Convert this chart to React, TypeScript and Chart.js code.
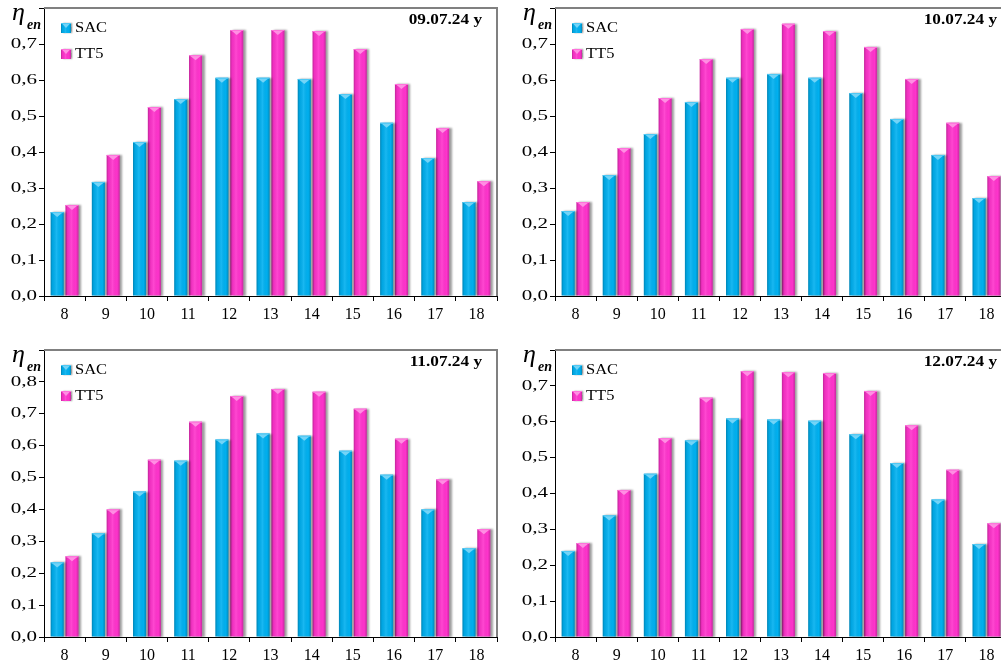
import React, { useEffect, useRef } from 'react';
import { Chart, registerables } from 'chart.js';

Chart.register(...registerables);

// Hours of the day (x categories)
const hours = ['8', '9', '10', '11', '12', '13', '14', '15', '16', '17', '18'];
const seriesNames = ['SAC', 'TT5'];
const seriesColors = ['#00B0F0', '#FF33CC'];

// Energy efficiency η_en per hour, one pair of series per day
const sacJul09 = [0.233, 0.317, 0.428, 0.547, 0.606, 0.606, 0.603, 0.561, 0.481, 0.383, 0.261];
const tt5Jul09 = [0.253, 0.392, 0.525, 0.669, 0.739, 0.739, 0.736, 0.686, 0.589, 0.467, 0.319];
const sacJul10 = [0.236, 0.336, 0.45, 0.539, 0.606, 0.617, 0.606, 0.564, 0.492, 0.392, 0.272];
const tt5Jul10 = [0.261, 0.411, 0.55, 0.658, 0.742, 0.756, 0.736, 0.692, 0.603, 0.481, 0.333];
const sacJul11 = [0.234, 0.325, 0.456, 0.553, 0.619, 0.638, 0.631, 0.584, 0.509, 0.4, 0.278];
const tt5Jul11 = [0.253, 0.4, 0.556, 0.675, 0.756, 0.778, 0.769, 0.716, 0.622, 0.494, 0.338];
const sacJul12 = [0.24, 0.339, 0.455, 0.548, 0.609, 0.606, 0.603, 0.565, 0.485, 0.383, 0.259];
const tt5Jul12 = [0.262, 0.41, 0.554, 0.667, 0.741, 0.738, 0.736, 0.686, 0.59, 0.466, 0.317];

const dateLabels = ['09.07.24 y', '10.07.24 y', '11.07.24 y', '12.07.24 y'];
const yMaxima = [0.8, 0.8, 0.9, 0.8];
const yStep = 0.1;

const panelSeries = [
  [sacJul09, tt5Jul09],
  [sacJul10, tt5Jul10],
  [sacJul11, tt5Jul11],
  [sacJul12, tt5Jul12],
];

// Canvas placement and plot-area box (canvas coordinates) for each panel
const panelLayouts = [
  { left: 0, top: 0, width: 505, height: 333, plotLeft: 44, plotTop: 8, plotRight: 497, plotBottom: 296, titleInset: 15 },
  { left: 505, top: 0, width: 510, height: 333, plotLeft: 50, plotTop: 8, plotRight: 502, plotBottom: 296, titleInset: 10 },
  { left: 0, top: 333, width: 505, height: 333, plotLeft: 44, plotTop: 17, plotRight: 497, plotBottom: 304, titleInset: 15 },
  { left: 505, top: 333, width: 510, height: 333, plotLeft: 50, plotTop: 17, plotRight: 502, plotBottom: 304, titleInset: 10 },
];

const SERIF = '"Liberation Serif", "Times New Roman", serif';

function lighten(hex: string, k: number): string {
  const n = parseInt(hex.slice(1), 16);
  const r = (n >> 16) & 255, g = (n >> 8) & 255, b = n & 255;
  const f = (c: number) => Math.round(c + (255 - c) * k);
  return `rgb(${f(r)},${f(g)},${f(b)})`;
}

// Bevel / cylinder shading laid over a flat bar rectangle
function shadeBar(ctx: CanvasRenderingContext2D, l: number, t: number, w: number, h: number, color: string) {
  const r = l + w;
  const g = ctx.createLinearGradient(l, 0, r, 0);
  g.addColorStop(0, 'rgba(0,0,0,0.25)');
  g.addColorStop(0.15, 'rgba(0,0,0,0.06)');
  g.addColorStop(0.45, 'rgba(255,255,255,0.10)');
  g.addColorStop(0.8, 'rgba(0,0,0,0)');
  g.addColorStop(1, 'rgba(0,0,0,0.22)');
  ctx.fillStyle = g;
  ctx.fillRect(l, t, w, h);
  const cap = Math.min(5, h);
  ctx.beginPath();
  ctx.moveTo(l + 0.5, t);
  ctx.lineTo(r - 0.5, t);
  ctx.lineTo(l + w / 2, t + cap);
  ctx.closePath();
  ctx.fillStyle = lighten(color, 0.45);
  ctx.fill();
  ctx.fillStyle = lighten(color, 0.3);
  ctx.fillRect(l, t, w, 1);
}

function makeDecorPlugin(idx: number) {
  const L = panelLayouts[idx];
  const yMax = yMaxima[idx];
  return {
    id: 'panelDecor' + idx,
    beforeDatasetsDraw(chart: any) {
      const ctx = chart.ctx as CanvasRenderingContext2D;
      ctx.save();
      ctx.shadowColor = 'rgba(0,0,0,0.38)';
      ctx.shadowOffsetX = 2.5;
      ctx.shadowOffsetY = 0;
      ctx.shadowBlur = 2;
    },
    afterDatasetsDraw(chart: any) {
      const ctx = chart.ctx as CanvasRenderingContext2D;
      ctx.restore();
      chart.data.datasets.forEach((ds: any, di: number) => {
        const meta = chart.getDatasetMeta(di);
        meta.data.forEach((el: any) => {
          const p = el.getProps(['x', 'y', 'base', 'width'], true);
          const t = Math.min(p.y, p.base);
          const b = Math.max(p.y, p.base);
          ctx.save();
          shadeBar(ctx, p.x - p.width / 2, t, p.width, b - t, ds.backgroundColor);
          ctx.restore();
        });
      });
    },
    afterDraw(chart: any) {
      const ctx = chart.ctx as CanvasRenderingContext2D;
      const area = chart.chartArea;
      const yScale = chart.scales.y;

      // grey frame on the top and right of the plot area
      ctx.save();
      ctx.strokeStyle = '#808080';
      ctx.lineWidth = 2;
      ctx.beginPath();
      ctx.moveTo(area.left, area.top);
      ctx.lineTo(area.right, area.top);
      ctx.lineTo(area.right, area.bottom);
      ctx.stroke();
      ctx.restore();

      // y tick labels with decimal comma; the top value is left unlabeled
      ctx.save();
      ctx.font = `14px ${SERIF}`;
      ctx.fillStyle = '#000';
      ctx.textAlign = 'right';
      ctx.textBaseline = 'middle';
      yScale.ticks.forEach((tk: any) => {
        if (tk.value > yMax - 1e-6) return;
        const py = yScale.getPixelForValue(tk.value);
        ctx.save();
        ctx.translate(area.left - 7, py);
        ctx.scale(1.5, 1);
        ctx.fillText(tk.value.toFixed(1).replace('.', ','), 0, 0);
        ctx.restore();
      });
      ctx.restore();

      // axis symbol η_en
      ctx.save();
      ctx.fillStyle = '#000';
      ctx.textAlign = 'left';
      ctx.textBaseline = 'alphabetic';
      ctx.font = `italic 26px ${SERIF}`;
      ctx.fillText('η', area.left - 32, area.top + 12);
      ctx.font = `italic bold 14px ${SERIF}`;
      ctx.fillText('en', area.left - 17, area.top + 21);
      ctx.restore();

      // legend inside the plot, top-left
      chart.data.datasets.forEach((ds: any, di: number) => {
        const mx = area.left + 17;
        const my = area.top + 15 + di * 26;
        ctx.save();
        ctx.shadowColor = 'rgba(0,0,0,0.38)';
        ctx.shadowOffsetX = 1.5;
        ctx.shadowBlur = 1.5;
        ctx.fillStyle = ds.backgroundColor;
        ctx.fillRect(mx, my, 10, 10);
        ctx.restore();
        ctx.save();
        shadeBar(ctx, mx, my, 10, 10, ds.backgroundColor);
        ctx.restore();
        ctx.save();
        ctx.font = `15px ${SERIF}`;
        ctx.fillStyle = '#000';
        ctx.textBaseline = 'alphabetic';
        ctx.translate(area.left + 31, area.top + 24 + di * 26);
        ctx.scale(1.1, 1);
        ctx.fillText(ds.label, 0, 0);
        ctx.restore();
      });

      // date caption, top-right
      ctx.save();
      ctx.font = `bold 15px ${SERIF}`;
      ctx.fillStyle = '#000';
      ctx.textAlign = 'right';
      ctx.textBaseline = 'alphabetic';
      ctx.translate(area.right - L.titleInset, area.top + 16);
      ctx.scale(1.15, 1);
      ctx.fillText(dateLabels[idx], 0, 0);
      ctx.restore();
    },
  };
}

function Panel({ idx }: { idx: number }) {
  const ref = useRef<HTMLCanvasElement>(null);
  const L = panelLayouts[idx];

  useEffect(() => {
    const canvas = ref.current;
    if (!canvas) return;
    const chart = new Chart(canvas, {
      type: 'bar',
      data: {
        labels: hours,
        datasets: panelSeries[idx].map((values, si) => ({
          label: seriesNames[si],
          data: values,
          backgroundColor: seriesColors[si],
          borderWidth: 0,
          categoryPercentage: 0.72,
          barPercentage: 0.88,
        })),
      },
      options: {
        animation: false,
        responsive: false,
        maintainAspectRatio: false,
        devicePixelRatio: 1,
        layout: { padding: { left: 0, top: L.plotTop, right: L.width - L.plotRight, bottom: 0 } },
        plugins: {
          legend: { display: false },
          tooltip: { enabled: false },
          title: { display: false },
        },
        scales: {
          x: {
            grid: { offset: true, drawOnChartArea: false, tickLength: 5, color: '#000' },
            border: { color: '#000', width: 1 },
            ticks: {
              font: { family: SERIF, size: 16 },
              color: '#000',
              padding: 4,
              maxRotation: 0,
              autoSkip: false,
            },
            afterFit: (s: any) => {
              s.height = L.height - L.plotBottom;
            },
          },
          y: {
            min: 0,
            max: yMaxima[idx],
            ticks: { stepSize: yStep, display: false },
            grid: { drawOnChartArea: false, tickLength: 5, color: '#000' },
            border: { color: '#000', width: 1 },
            afterFit: (s: any) => {
              s.width = L.plotLeft;
            },
          },
        },
      } as any,
      plugins: [makeDecorPlugin(idx)],
    });
    return () => chart.destroy();
  }, [idx]);

  return (
    <canvas
      ref={ref}
      width={L.width}
      height={L.height}
      style={{ position: 'absolute', left: L.left, top: L.top, width: L.width, height: L.height }}
    />
  );
}

export default function App() {
  return (
    <div
      style={{
        position: 'fixed',
        left: 0,
        top: 0,
        width: 1001,
        height: 666,
        overflow: 'hidden',
        background: '#fff',
      }}
    >
      {panelLayouts.map((_, i) => (
        <Panel key={i} idx={i} />
      ))}
    </div>
  );
}
